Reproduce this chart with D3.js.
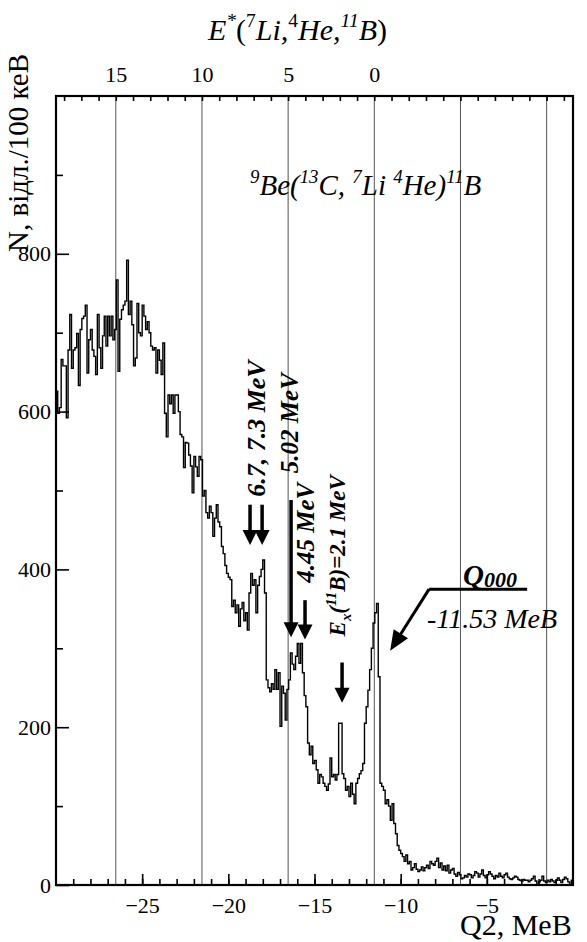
<!DOCTYPE html>
<html><head><meta charset="utf-8">
<script src="https://cdn.jsdelivr.net/npm/d3@7"></script>
<style>body{margin:0;background:#fff} svg{display:block} svg text{font-family:"Liberation Serif","Times New Roman",Times,"Nimbus Roman","DejaVu Serif",serif !important;fill:#000}</style>
</head><body><svg id="c" width="587" height="942"></svg>
<script>
// ---- data ----
const binStart = -30, binWidth = 0.1;           // Q2 bins, MeV
const counts = [
 626,598,605,666,658,658,592,678,723,655,
 678,681,699,633,704,718,721,735,649,691,
 704,678,670,647,723,681,655,696,721,683,
 721,696,721,691,704,767,651,717,729,735,
 740,792,723,740,710,658,668,737,700,696,
 735,721,704,714,700,683,678,681,649,678,
 665,647,687,598,568,621,610,621,598,621,
 621,600,571,568,529,561,560,545,531,497,
 543,530,518,543,539,493,500,472,465,480,
 472,442,465,482,460,454,429,420,405,395,
 390,387,353,361,345,355,328,350,358,335,
 345,323,370,395,380,387,345,380,391,400,
 412,370,260,250,245,255,248,273,248,269,
 201,252,243,209,248,260,294,280,273,290,
 306,281,306,269,240,226,180,165,176,154,
 158,146,129,140,137,129,125,120,128,161,
 137,140,133,140,205,205,141,135,120,125,
 112,129,115,103,129,135,141,145,154,205,
 226,247,273,300,332,345,357,264,129,125,
 120,103,108,100,82,103,78,65,50,44,
 40,36,30,38,27,30,19,22,27,20,
 17,19,23,18,22,25,21,30,27,25,
 30,34,22,28,19,24,18,25,15,19,
 21,14,11,16,13,8,9,12,10,14,
 13,9,12,17,15,10,14,19,12,9,
 13,17,14,11,8,12,10,15,11,9,
 13,15,10,8,7,9,11,10,7,6,
 5,7,6,6,4,6,8,11,5,0,
 4,6,11,5,3,6,4,7,5,3,
 6,9,6,3,7,10,8,4,0,6
];
const Q0 = -11.53;                               // ground-state Q value
const xMajorTicks = [-25,-20,-15,-10,-5];
const yMajorTicks = [0,200,400,600,800];
const yMinorTicks = [100,300,500,700,900];
const topLabelTicks = [15,10,5,0];
const gridEstar = [15,10,5,0,-5,-10];
// arrows: [Q2, N from, N to]
const stateArrows = [[-18.74,482,431],[-18.04,482,431],[-16.36,488,314],[-15.55,361,311],[-13.40,282,231]];

// ---- layout ----
const SERIF = '"Liberation Serif","Times New Roman",Times,serif';
const svg = d3.select("#c");
const L=56,R=573,T=96,B=885;
const x = d3.scaleLinear([-30,0],[L,R]);
const y = d3.scaleLinear([0,1000],[B,T]);
const xE = d3.scaleLinear([Q0-(-30), Q0-0],[L,R]);

// grid lines
svg.append("g").selectAll("line").data(gridEstar).join("line")
  .attr("x1",d=>xE(d)).attr("x2",d=>xE(d)).attr("y1",T).attr("y2",B)
  .attr("stroke","#555").attr("stroke-width",1);

// axes
function styleAxis(g){ g.attr("font-family",SERIF); g.select(".domain").remove(); g.selectAll("line").attr("stroke","#000").attr("stroke-width",1.6);
  g.selectAll("text").attr("font-size",22).attr("fill","#000"); }
svg.append("g").attr("transform",`translate(0,${B})`)
  .call(d3.axisBottom(x).tickValues(d3.range(-29,0)).tickSize(-6).tickFormat("")).call(styleAxis);
svg.append("g").attr("transform",`translate(0,${B})`)
  .call(d3.axisBottom(x).tickValues(xMajorTicks).tickSize(-11).tickPadding(12).tickFormat(d3.format("d"))).call(styleAxis);
svg.append("g").attr("transform",`translate(${L},0)`)
  .call(d3.axisLeft(y).tickValues(yMinorTicks).tickSize(-7).tickFormat("")).call(styleAxis);
svg.append("g").attr("transform",`translate(${L},0)`)
  .call(d3.axisLeft(y).tickValues(yMajorTicks).tickSize(-13).tickPadding(5).tickFormat(d3.format("d"))).call(styleAxis);
svg.append("g").attr("transform",`translate(0,${T})`)
  .call(d3.axisTop(xE).tickValues(d3.range(-11,19)).tickSize(-5).tickFormat("")).call(styleAxis);
svg.append("g").attr("transform",`translate(0,${T})`)
  .call(d3.axisTop(xE).tickValues(topLabelTicks).tickSize(0).tickPadding(14).tickFormat(d3.format("d"))).call(styleAxis);

// histogram
const pts = counts.map((c,i)=>[binStart+i*binWidth,c]);
pts.push([binStart+counts.length*binWidth, counts[counts.length-1]]);
svg.append("path").attr("d", d3.line().x(d=>x(d[0])).y(d=>y(d[1])).curve(d3.curveStepAfter)(pts))
  .attr("fill","none").attr("stroke","#000").attr("stroke-width",1.4);

// frame
svg.append("rect").attr("x",L).attr("y",T).attr("width",R-L).attr("height",B-T)
  .attr("fill","none").attr("stroke","#000").attr("stroke-width",2.2);

// rich text helper
function rich(sel, parts, size){
  let off=0;
  parts.forEach(p=>{
    const ts=sel.append("tspan").text(p.t);
    let target=0, fs=size;
    if(p.sup){target=-size*0.42; fs=size*0.65;}
    if(p.sub){target=size*0.25; fs=size*0.65;}
    if(p.fs) fs=p.fs;
    if(p.dy!==undefined) target=p.dy;
    ts.attr("dy",target-off).attr("font-size",fs);
    if(p.it!==undefined) ts.attr("font-style",p.it?"italic":"normal");
    off=target;
  });
}
function T_(sel){ return sel.attr("font-family",SERIF); }

// titles
const t1=T_(svg.append("text")).attr("x",208).attr("y",40).attr("font-size",30).attr("font-style","italic");
rich(t1,[{t:"E"},{t:"*",sup:1},{t:"(",it:false},{t:"7",sup:1,it:false},{t:"Li,"},{t:"4",sup:1,it:false},{t:"He,"},{t:"11",sup:1},{t:"B",},{t:")",it:false}],30);

T_(svg.append("text")).attr("transform","translate(28,252) rotate(-90)").attr("font-size",29)
  .text("N, відл./100 кеВ");
T_(svg.append("text")).attr("x",460).attr("y",935).attr("font-size",30).text("Q2, MeB");

const t2=T_(svg.append("text")).attr("x",250).attr("y",195).attr("font-size",29).attr("font-style","italic");
rich(t2,[{t:"9",sup:1},{t:"Be("},{t:"13",sup:1},{t:"C, "},{t:"7",sup:1},{t:"Li "},{t:"4",sup:1},{t:"He)"},{t:"11",sup:1},{t:"B"}],29);

// arrows
function arrow(g, x1,y1,x2,y2, hl, hw, sw){
  const dx=x2-x1, dy=y2-y1, len=Math.hypot(dx,dy), ux=dx/len, uy=dy/len;
  const bx=x2-ux*hl, by=y2-uy*hl, px=-uy, py=ux;
  g.append("line").attr("x1",x1).attr("y1",y1).attr("x2",bx+ux*2).attr("y2",by+uy*2)
    .attr("stroke","#000").attr("stroke-width",sw);
  g.append("path").attr("d",`M${x2},${y2}L${bx+px*hw/2},${by+py*hw/2}L${bx-px*hw/2},${by-py*hw/2}Z`).attr("fill","#000");
}
const ag=svg.append("g");
stateArrows.forEach(a=>arrow(ag, x(a[0]), y(a[1]), x(a[0]), y(a[2]), 15, 15, 3.5));
// ground state arrow
ag.append("line").attr("x1",x(-2.66)).attr("x2",x(-8.35)).attr("y1",y(375)).attr("y2",y(375)).attr("stroke","#000").attr("stroke-width",3);
arrow(ag, x(-8.35), y(375), x(-10.61), y(297), 20, 17, 3);

// rotated labels
function rlabel(q,n,parts,size){
  const t=T_(svg.append("text")).attr("transform",`translate(${x(q)},${y(n)}) rotate(-90)`)
    .attr("font-size",size).attr("font-style","italic").attr("font-weight","bold");
  rich(t,parts,size);
}
rlabel(-17.87,492,[{t:"6.7, 7.3 MeV"}],26);
rlabel(-15.95,522,[{t:"5.02 MeV"}],25);
rlabel(-15.03,383,[{t:"4.45 MeV"}],25);
rlabel(-13.22,315,[{t:"E"},{t:"x",sub:1},{t:"("},{t:"11",sup:1},{t:"B)=2.1 MeV"}],23);

const q=T_(svg.append("text")).attr("x",x(-6.38)).attr("y",y(380)).attr("font-weight","bold").attr("font-style","italic");
rich(q,[{t:"Q",fs:29},{t:"000",fs:22,dy:2}],29);
T_(svg.append("text")).attr("x",x(-8.47)).attr("y",y(326)).attr("font-size",28).attr("font-style","italic").text("-11.53 MeB");
</script></body></html>
